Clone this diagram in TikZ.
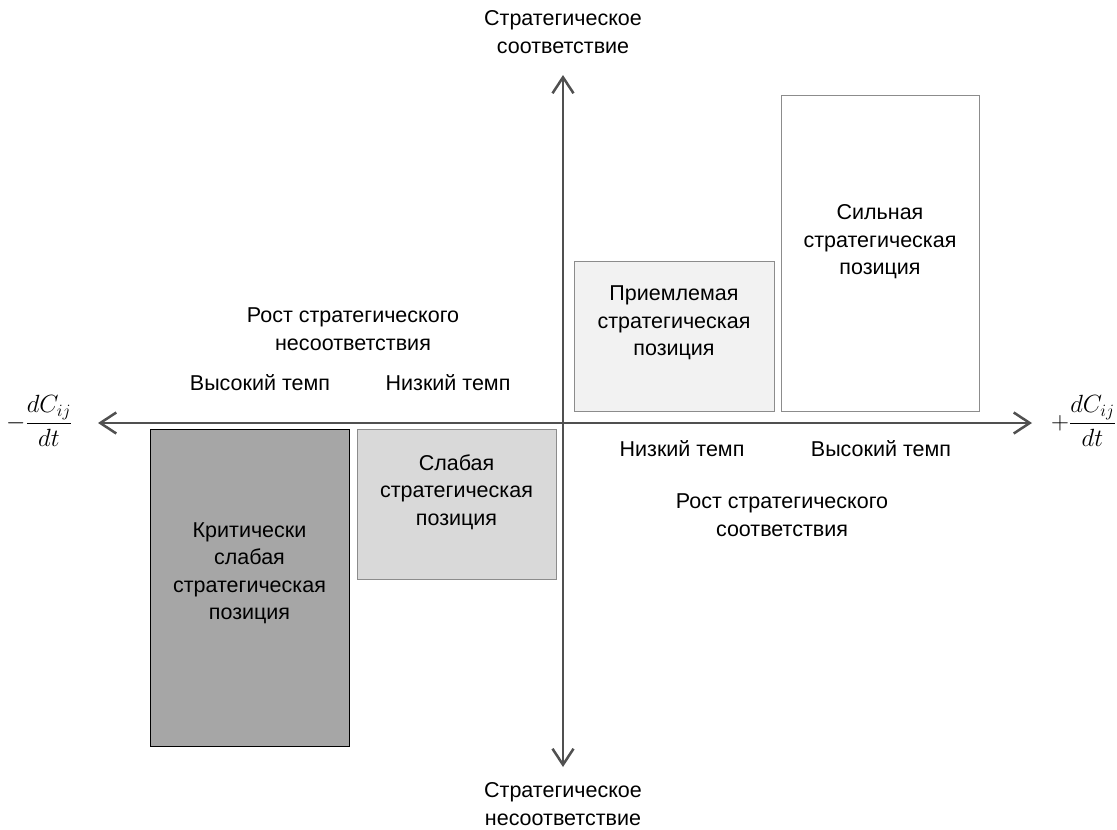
\documentclass[tikz,border=0pt]{standalone}
\usepackage{fontspec}
\setmainfont{Liberation Sans}
\usetikzlibrary{arrows.meta}
\definecolor{axisgray}{HTML}{505050}
\definecolor{boxline}{HTML}{8C8C8C}
\tikzset{
  lbl/.style={align=center, font=\fontsize{21.5}{27.5}\selectfont, text=black, inner sep=0pt},
  axis/.style={draw=axisgray, line width=2.8pt, -{Straight Barb[length=16pt, width=21pt, line width=2.5pt]}},
  posbox/.style={draw=boxline, line width=1pt},
  mlbl/.style={inner sep=0pt, font=\fontsize{24}{28}\selectfont},
}
\begin{document}
\begin{tikzpicture}[x=1pt, y=-1pt]
\useasboundingbox (0,0) rectangle (1117,830);
% boxes
\path[posbox, draw=black, fill={rgb,255:red,166;green,166;blue,166}] (150,429) rectangle (349,746);
\path[posbox, fill={rgb,255:red,217;green,217;blue,217}] (357,429) rectangle (556,579);
\path[posbox, fill={rgb,255:red,242;green,242;blue,242}] (574,261) rectangle (774,411);
\path[posbox, fill=white] (781,95) rectangle (979,411);
% axis anchors
\coordinate (o) at (563,423);
\coordinate (l) at (98,423);
\coordinate (r) at (1032,423);
\coordinate (t) at (563,75);
\coordinate (b) at (563,767);
\draw[axis] (o) -- (l);
\draw[axis] (o) -- (r);
\draw[axis] (o) -- (t);
\draw[axis] (o) -- (b);
% box labels
\node[lbl] (crit) at (249.5,573) {Критически\\слабая\\стратегическая\\позиция};
\node[lbl] (weak) at (456.5,492) {Слабая\\стратегическая\\позиция};
\node[lbl] (acc) at (674,323) {Приемлемая\\стратегическая\\позиция};
\node[lbl] (strong) at (880,242) {Сильная\\стратегическая\\позиция};
% axis labels
\node[lbl] (top) at (563,32) {Стратегическое\\соответствие};
\node[lbl] (bot) at (563,804) {Стратегическое\\несоответствие};
\node[lbl] (negrow) at (353,329) {Рост стратегического\\несоответствия};
\node[lbl] (hl) at (260,383) {Высокий темп};
\node[lbl] (ll) at (448,383) {Низкий темп};
\node[lbl] (lr) at (682,449) {Низкий темп};
\node[lbl] (hr) at (881,449) {Высокий темп};
\node[lbl] (posrow) at (782,515) {Рост стратегического\\соответствия};
\node[mlbl, anchor=west] (mneg) at (6,421) {$\displaystyle -\frac{dC_{ij}}{dt}$};
\node[mlbl, anchor=east] (mpos) at (1116,421) {$\displaystyle +\frac{dC_{ij}}{dt}$};
\end{tikzpicture}
\end{document}
